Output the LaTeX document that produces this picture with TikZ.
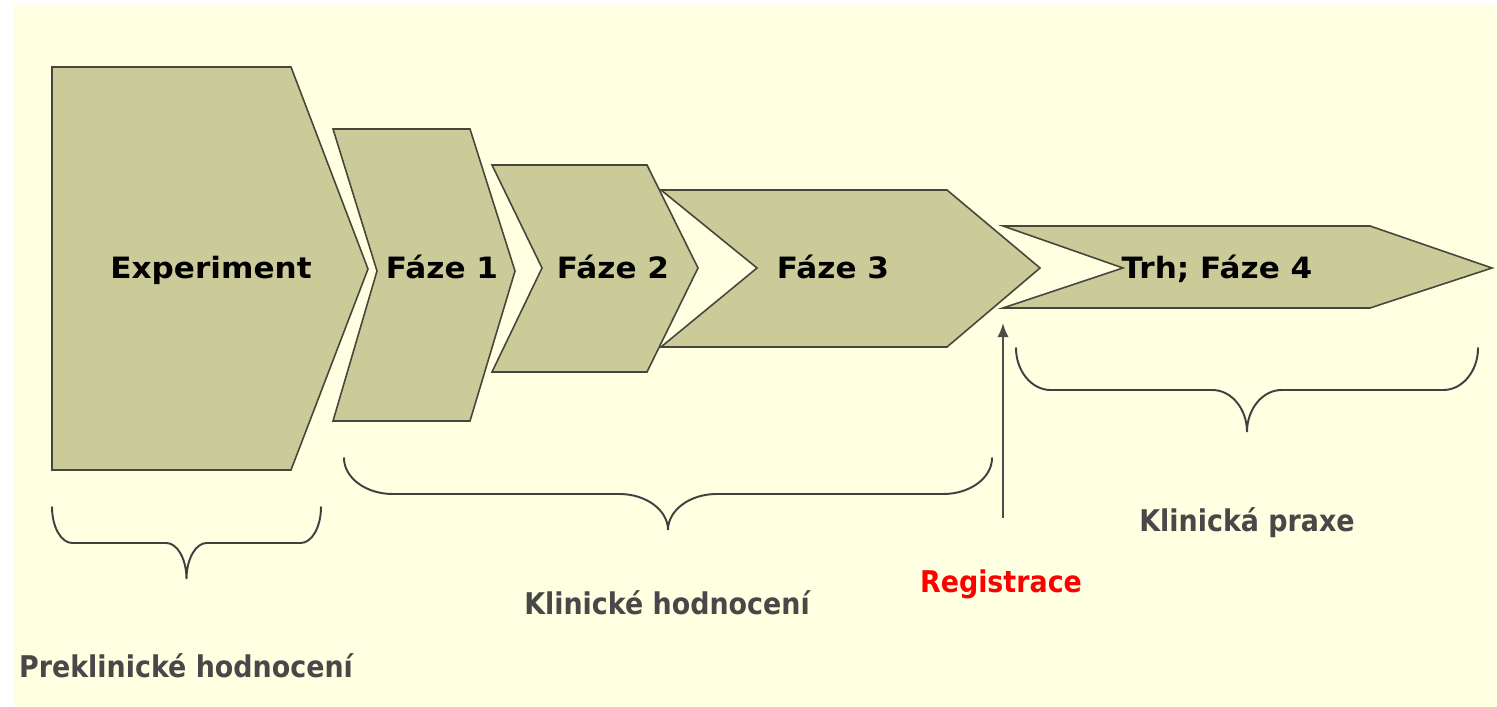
\documentclass[tikz,border=0pt]{standalone}
\usepackage{fontspec}
\setmainfont{DejaVu Sans}
\newfontfamily\phasefont[FakeStretch=1.06]{DejaVu Sans}
\newfontfamily\stagefont[FakeStretch=0.9]{DejaVu Sans}
\usetikzlibrary{arrows.meta}

\definecolor{slidebg}{RGB}{255,255,225}
\definecolor{phasefill}{RGB}{203,203,154}
\definecolor{phaseline}{RGB}{70,70,58}
\definecolor{stagegray}{RGB}{72,72,72}

\begin{document}
\begin{tikzpicture}[
  x=0.01cm,
  y=-0.01cm,
  line join=miter,
  phase shape/.style={fill=phasefill, draw=phaseline, line width=0.45pt},
  phase label/.style={font=\phasefont\bfseries\fontsize{8.35}{9}\selectfont,
    anchor=base, inner sep=0pt},
  stage label/.style={font=\stagefont\bfseries\fontsize{8.5}{10}\selectfont,
    text=stagegray, anchor=base, inner sep=0pt},
  stage brace/.style={draw=black!75, line width=0.55pt, line cap=round},
  reg arrow/.style={-{Latex[length=4pt,width=3.2pt]}, draw=black!70,
    line width=0.6pt}
]
  % Slide background with the thin white strip on the left and top.
  \fill[white] (0,0) rectangle (1497,707);
  \fill[slidebg] (13,5) rectangle (1497,707);
  \useasboundingbox (0,0) rectangle (1497,707);

  % The chevrons of the development pipeline.
  \draw[phase shape] (52,67) -- (291,67) -- (368,269) -- (291,470) --
    (52,470) -- cycle;
  \draw[phase shape] (333,129) -- (470,129) -- (515,271) -- (470,421) --
    (333,421) -- (377,271) -- cycle;
  \draw[phase shape] (661,190) -- (947,190) -- (1040,268) -- (947,347) --
    (661,347) -- (757,268) -- cycle;
  \draw[phase shape] (492,165) -- (647,165) -- (698,268) -- (647,372) --
    (492,372) -- (542,268) -- cycle;
  \draw[phase shape] (1003,226) -- (1370,226) -- (1492,268) -- (1370,308) --
    (1003,308) -- (1123,268) -- cycle;

  \node[phase label] (experiment) at (211,279) {Experiment};
  \node[phase label] (faze1) at (442,279) {Fáze 1};
  \node[phase label] (faze2) at (613,279) {Fáze 2};
  \node[phase label] (faze3) at (833,279) {Fáze 3};
  \node[phase label] (trh) at (1217,279) {Trh; Fáze 4};

  % Curly braces grouping the phases: left end/right end/top/half depth.
  \foreach \xa/\xb/\yt/\h in {52/321/507/36, 344/992/458/36, 1016/1478/348/42} {
    \pgfmathsetmacro\r{0.075*(\xb-\xa)}
    \pgfmathsetmacro\xm{(\xa+\xb)/2}
    \draw[stage brace] (\xa,\yt)
      .. controls (\xa,\yt+0.55*\h) and (\xa+0.45*\r,\yt+\h) .. (\xa+\r,\yt+\h)
      -- (\xm-\r,\yt+\h)
      .. controls (\xm-0.45*\r,\yt+\h) and (\xm,\yt+1.45*\h) .. (\xm,\yt+2*\h)
      .. controls (\xm,\yt+1.45*\h) and (\xm+0.45*\r,\yt+\h) .. (\xm+\r,\yt+\h)
      -- (\xb-\r,\yt+\h)
      .. controls (\xb-0.45*\r,\yt+\h) and (\xb,\yt+0.55*\h) .. (\xb,\yt);
  }

  \node[stage label] (preclin) at (186,678) {Preklinické hodnocení};
  \node[stage label] (clin) at (667,615) {Klinické hodnocení};
  \node[stage label] (praxe) at (1247,532) {Klinická praxe};
  \node[stage label, text=red] (reg) at (1001,593) {Registrace};

  % Registration marks the step into the market.
  \coordinate (reg foot) at (1003,518);
  \coordinate (reg head) at (1003,323);
  \draw[reg arrow] (reg foot) -- (reg head);
\end{tikzpicture}
\end{document}
